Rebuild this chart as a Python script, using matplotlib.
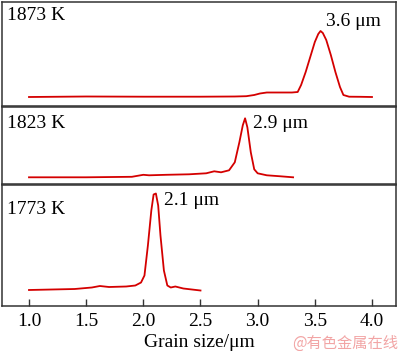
import matplotlib
matplotlib.use("Agg")
import matplotlib.pyplot as plt

plt.rcParams['font.family'] = ['Liberation Serif', 'DejaVu Serif']

# grain size distributions (relative frequency, arbitrary units)
x_1873 = [1.0, 1.5, 2.0, 2.5, 2.8, 2.9, 2.97, 3.02, 3.08, 3.15, 3.3, 3.35, 3.38, 3.42, 3.46,
          3.5, 3.53, 3.55, 3.57, 3.6, 3.64, 3.68, 3.72, 3.75, 3.8, 3.9, 4.0]
y_1873 = [0, 0.5, 0.3, 0.3, 0.5, 0.8, 2.0, 3.5, 4.5, 4.5, 4.5, 5, 12, 25, 40,
          55, 63, 66, 64, 57, 42, 25, 10, 2, 0.3, 0.2, 0]

x_1823 = [1.0, 1.5, 1.9, 2.0, 2.05, 2.2, 2.4, 2.55, 2.62, 2.68, 2.75, 2.8, 2.84,
          2.87, 2.89, 2.91, 2.94, 2.97, 3.0, 3.08, 3.2, 3.31]
y_1823 = [0, 0, 0.5, 2.5, 2, 2.5, 3, 4, 6, 5, 7, 15, 35,
          52, 59, 50, 25, 8, 4, 2, 1, 0]

x_1773 = [1.0, 1.2, 1.4, 1.55, 1.62, 1.7, 1.85, 1.93, 1.98, 2.01, 2.04, 2.07, 2.09,
          2.11, 2.13, 2.15, 2.18, 2.21, 2.24, 2.28, 2.35, 2.5]
y_1773 = [0.5, 1, 1.5, 3, 4.5, 3.5, 4, 5, 8, 15, 45, 80, 96,
          97, 85, 55, 20, 5, 3, 4, 2, 0]

temps = ['1873 K', '1823 K', '1773 K']
peaks = ['3.6 μm', '2.9 μm', '2.1 μm']
xticks = [1.0, 1.5, 2.0, 2.5, 3.0, 3.5, 4.0]

fig = plt.figure(figsize=(4.0, 3.51), dpi=100)
W, H = 400.0, 351.0

# panel pixel extents (top, bottom)
panels = [(2, 106), (107, 184), (185, 306)]
ylims = [(-9, 95), (-6.7, 70.3), (-15.5, 105.5)]
curves = [(x_1873, y_1873), (x_1823, y_1823), (x_1773, y_1773)]
peak_pos = [(3.598, 75), (2.959, 54), (2.18, 90)]
temp_y = [0.868, 0.78, 0.80]

for i, (t, b) in enumerate(panels):
    ax = fig.add_axes([2 / W, 1 - b / H, 394 / W, (b - t) / H])
    xs, ys = curves[i]
    ax.plot(xs, ys, color='#d40000', lw=1.3)
    ax.set_xlim(0.764, 4.21)
    ax.set_ylim(*ylims[i])
    ax.set_yticks([])
    for s in ax.spines.values():
        s.set_color('#333333')
        s.set_linewidth(1.1)
    ax.text(0.013, temp_y[i], temps[i], transform=ax.transAxes,
            fontsize=14, va='center', ha='left')
    ax.text(peak_pos[i][0], peak_pos[i][1], peaks[i], fontsize=14,
            va='center', ha='left')
    if i < 2:
        ax.set_xticks([])
    else:
        ax.set_xticks(xticks)
        ax.set_xticklabels(['%.1f' % v for v in xticks], fontsize=14)
        ax.tick_params(axis='x', direction='in', length=5, width=1, color='#333333', pad=5)
        ax.set_xlabel('Grain size/μm', fontsize=14, labelpad=3)

fig.text(0.995, 0.022, '@有色金属在线', color='#f2a5a5', fontsize=11,
         ha='right', va='center', family=['Noto Sans CJK SC', 'DejaVu Sans'])

fig.savefig('out.png', dpi=100)
